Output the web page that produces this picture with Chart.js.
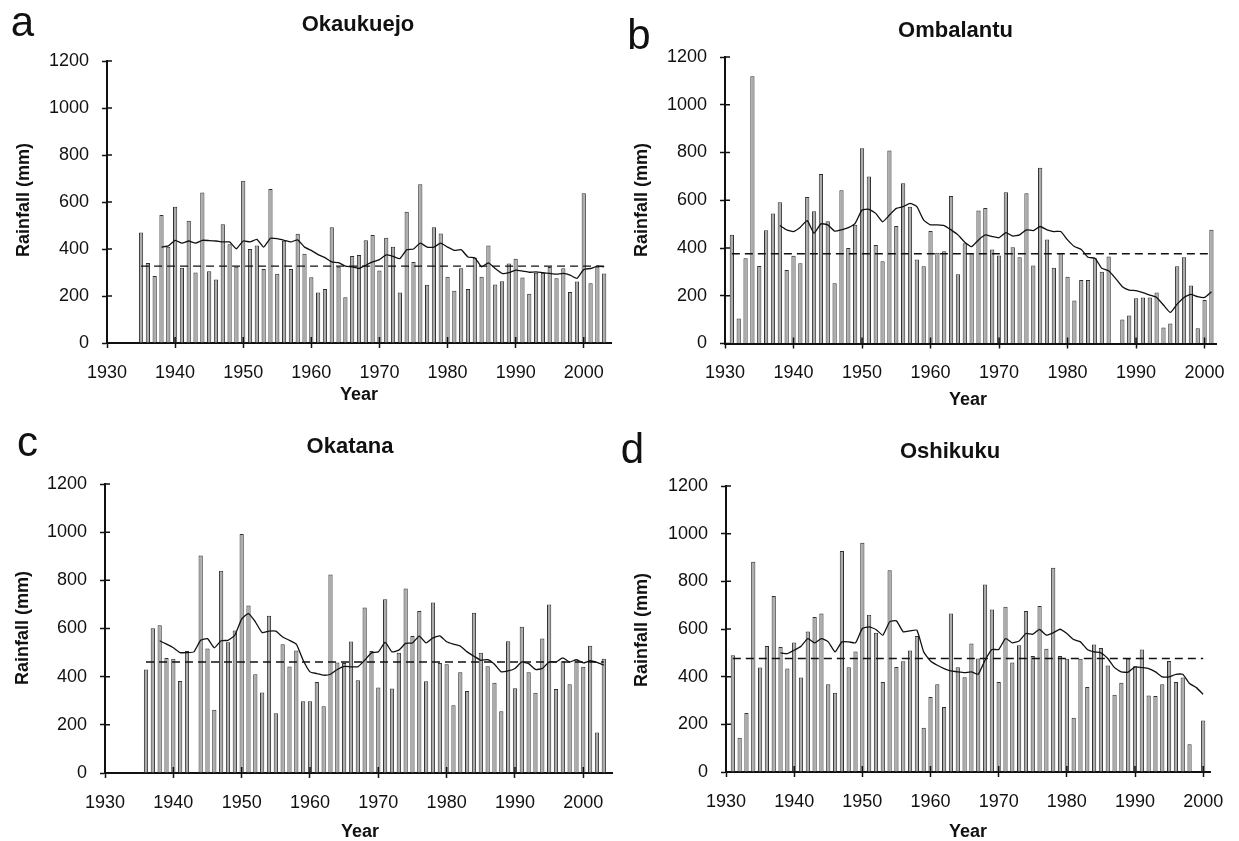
<!DOCTYPE html>
<html>
<head>
<meta charset="utf-8">
<script src="https://cdn.jsdelivr.net/npm/chart.js@4.4.1/dist/chart.umd.min.js"></script>
<style>
    body { margin: 0; background: #fff; }
    #page { position: relative; width: 1239px; height: 841px; overflow: hidden; font-family: "Liberation Sans", Arial, sans-serif; color: #111; }
    canvas { position: absolute; }
    .lbl { position: absolute; transform: translate(-50%, -50%); line-height: 1; white-space: nowrap; }
    .letter { font-size: 42px; }
    .title { font-size: 22px; font-weight: bold; }
    .axt { font-size: 18px; font-weight: bold; }
    .rot { transform: translate(-50%, -50%) rotate(-90deg); }
</style>
</head>
<body>
<div id="page"></div>
<script>
// Axis ticks
const yearTicks = [1930, 1940, 1950, 1960, 1970, 1980, 1990, 2000];
const rainTicks = [0, 200, 400, 600, 800, 1000, 1200];

// a - Okaukuejo (annual rainfall from 1935, running mean from 1938)
const okaukuejoStart = 1935;
const okaukuejoRain = [470, 340, 285, 545, 410,
    580, 320, 520, 300, 640, 305, 270, 505, 420, 325,
    690, 400, 415, 315, 655, 295, 435, 315, 465, 380,
    280, 215, 230, 493, 325, 195, 370, 375, 437, 460,
    308, 448, 410, 215, 558, 345, 676, 248, 493, 466,
    282, 222, 318, 230, 363, 282, 415, 249, 263, 338,
    358, 279, 210, 299, 299, 323, 276, 318, 217, 262,
    637, 254, 324, 296];
const okaukuejoAvgStart = 1938;
const okaukuejoAvg = [408, 413,
    437, 425, 434, 425, 437, 436, 434, 430, 430, 401,
    434, 430, 441, 408, 446, 444, 437, 430, 439, 408,
    394, 376, 363, 345, 342, 327, 324, 317, 331, 345,
    355, 375, 369, 359, 397, 400, 425, 408, 408, 425,
    408, 394, 397, 366, 363, 324, 341, 317, 296, 299,
    310, 306, 301, 303, 299, 296, 293, 296, 289, 275,
    313, 317, 327, 324];
const okaukuejoMean = 327;

// b - Ombalantu
const ombalantuStart = 1931;
const ombalantuRain = [455, 105, 357, 1119, 325, 474, 545, 592, 308,
    368, 336, 614, 554, 710, 512, 252, 642, 400, 497,
    818, 699, 413, 345, 808, 492, 671, 573, 352, 324,
    471, 380, 386, 618, 290, 420, 378, 557, 568, 394,
    369, 634, 403, 361, 629, 327, 736, 436, 317, 378,
    280, 180, 266, 266, 357, 301, 364, null, 101, 117,
    190, 193, 193, 214, 67, 84, 324, 361, 243, 64,
    182, 476];
const ombalantuAvgStart = 1938;
const ombalantuAvg = [494, 476,
    469, 487, 515, 462, 501, 497, 471, 476, 485, 503,
    559, 562, 545, 510, 538, 566, 573, 587, 573, 517,
    497, 497, 494, 476, 455, 424, 406, 434, 455, 448,
    443, 464, 450, 455, 476, 473, 490, 476, 469, 469,
    434, 406, 394, 361, 357, 315, 305, 273, 238, 224,
    221, 213, 203, 193, 161, 130, 165, 193, 206, 196,
    193, 217];
const ombalantuMean = 376;

// c - Okatana
const okatanaStart = 1936;
const okatanaRain = [430, 601, 614, 478,
    474, 382, 507, null, 903, 517, 263, 840, 543, 592,
    992, 696, 410, 334, 653, 248, 535, 442, 509, 298,
    298, 378, 277, 824, 459, 457, 546, 385, 687, 507,
    355, 721, 351, 499, 766, 569, 673, 381, 708, 457,
    452, 281, 418, 341, 665, 499, 443, 375, 256, 547,
    352, 607, 418, 333, 558, 700, 349, 464, 369, 471,
    441, 528, 168, 474];
const okatanaAvgStart = 1938;
const okatanaAvg = [549, 535,
    520, 500, 500, 503, 551, 558, 520, 549, 551, 572,
    639, 662, 628, 583, 589, 589, 565, 551, 535, 468,
    420, 413, 406, 410, 430, 443, 441, 441, 468, 499,
    503, 542, 503, 510, 538, 540, 568, 540, 561, 569,
    545, 535, 527, 503, 485, 468, 471, 452, 420, 424,
    434, 461, 454, 430, 434, 461, 461, 478, 461, 471,
    457, 466, 459, 448];
const okatanaMean = 461;

// d - Oshikuku
const oshikukuStart = 1931;
const oshikukuRain = [490, 144, 248, 882, 438, 529, 738, 525, 434,
    543, 396, 590, 650, 665, 368, 332, 927, 440, 506,
    962, 660, 584, 378, 847, 441, 465, 510, 571, 186,
    315, 368, 273, 665, 440, 398, 539, 476, 787, 682,
    378, 693, 459, 532, 676, 487, 696, 517, 857, 487,
    475, 228, 475, 357, 535, 520, 447, 324, 374, 475,
    444, 514, 321, 319, 368, 466, 378, 396, 116, null,
    216];
const oshikukuAvgStart = 1938;
const oshikukuAvg = [500, 497,
    511, 528, 560, 542, 560, 546, 504, 546, 546, 542,
    602, 609, 598, 574, 630, 634, 588, 592, 595, 504,
    466, 448, 434, 424, 420, 417, 420, 410, 469, 514,
    514, 560, 542, 550, 581, 578, 598, 574, 584, 599,
    581, 556, 546, 514, 504, 500, 476, 438, 420, 419,
    441, 438, 434, 420, 399, 399, 410, 410, 371, 354,
    326];
const oshikukuMean = 476;

const panels = [
    { letter: 'a', name: 'Okaukuejo', start: okaukuejoStart, rain: okaukuejoRain, avgStart: okaukuejoAvgStart, avg: okaukuejoAvg, mean: okaukuejoMean, xMax: 2004,
      box: [0, 0, 620, 420], area: { left: 107, top: 61, right: 611, bottom: 343 },
      letterAt: [22.5, 22.3], titleAt: [358, 23.5], yTitleAt: [23, 200], xTitleAt: [359, 394] },
    { letter: 'b', name: 'Ombalantu', start: ombalantuStart, rain: ombalantuRain, avgStart: ombalantuAvgStart, avg: ombalantuAvg, mean: ombalantuMean, xMax: 2001.7,
      box: [620, 0, 619, 420], area: { left: 725, top: 57, right: 1222, bottom: 343.5 },
      letterAt: [639, 34.8], titleAt: [955.5, 30], yTitleAt: [641, 200], xTitleAt: [968, 399] },
    { letter: 'c', name: 'Okatana', start: okatanaStart, rain: okatanaRain, avgStart: okatanaAvgStart, avg: okatanaAvg, mean: okatanaMean, xMax: 2004.2,
      box: [0, 420, 620, 421], area: { left: 105, top: 484, right: 612, bottom: 773 },
      letterAt: [27.5, 442.3], titleAt: [350, 446], yTitleAt: [22, 628], xTitleAt: [360, 831] },
    { letter: 'd', name: 'Oshikuku', start: oshikukuStart, rain: oshikukuRain, avgStart: oshikukuAvgStart, avg: oshikukuAvg, mean: oshikukuMean, xMax: 2001,
      box: [620, 420, 619, 421], area: { left: 726, top: 486, right: 1210, bottom: 772 },
      letterAt: [632.5, 449.3], titleAt: [950, 451], yTitleAt: [641, 630], xTitleAt: [968, 831] }
];

const page = document.getElementById('page');
const FONT = '"Liberation Sans", Arial, sans-serif';
Chart.defaults.font.family = FONT;
Chart.defaults.color = '#111';

// Ticks in the figure cross the axis, so draw the inner half too
const innerTicks = {
    id: 'innerTicks',
    afterDatasetsDraw(chart) {
        const { ctx, chartArea: a, scales: { x, y } } = chart;
        ctx.save();
        ctx.strokeStyle = '#111';
        ctx.lineWidth = 1.5;
        ctx.beginPath();
        x.ticks.forEach(t => {
            const px = x.getPixelForValue(t.value);
            ctx.moveTo(px, a.bottom);
            ctx.lineTo(px, a.bottom - 6);
        });
        y.ticks.forEach(t => {
            const py = y.getPixelForValue(t.value);
            ctx.moveTo(a.left, py);
            ctx.lineTo(a.left + 5, py);
        });
        ctx.stroke();
        ctx.restore();
    }
};

function addLabel(text, cls, [x, y]) {
    const d = document.createElement('div');
    d.className = 'lbl ' + cls;
    d.textContent = text;
    d.style.left = x + 'px';
    d.style.top = y + 'px';
    page.appendChild(d);
}

function makePanel(p) {
    const [bx, by, bw, bh] = p.box;
    const c = document.createElement('canvas');
    c.width = bw;
    c.height = bh;
    c.style.left = bx + 'px';
    c.style.top = by + 'px';
    page.appendChild(c);

    const years = p.rain.map((_, i) => p.start + i);
    const bars = years.map((yr, i) => ({ x: yr, y: p.rain[i] }));
    const avg = p.avg.map((v, i) => ({ x: p.avgStart + i, y: v }));
    const mean = [{ x: years[0], y: p.mean }, { x: years[years.length - 1], y: p.mean }];

    new Chart(c, {
        type: 'bar',
        data: {
            datasets: [
                { type: 'line', data: avg, borderColor: '#111', borderWidth: 1.3, pointRadius: 0, tension: 0.15, order: 1 },
                { type: 'line', data: mean, borderColor: '#111', borderWidth: 1.4, borderDash: [8, 5], pointRadius: 0, order: 1 },
                { type: 'bar', data: bars, backgroundColor: '#ababab', borderColor: '#303030', borderWidth: 1,
                  barPercentage: 0.62, categoryPercentage: 1, order: 2 }
            ]
        },
        options: {
            responsive: false,
            animation: false,
            devicePixelRatio: 1,
            layout: { padding: { top: p.area.top - by, right: bx + bw - p.area.right, left: 0, bottom: 0 } },
            plugins: { legend: { display: false }, tooltip: { enabled: false } },
            scales: {
                x: {
                    type: 'linear', min: 1930, max: p.xMax, offset: false,
                    afterBuildTicks: s => { s.ticks = yearTicks.map(v => ({ value: v })); },
                    afterFit: s => { s.height = by + bh - p.area.bottom; },
                    grid: { drawOnChartArea: false, drawTicks: true, tickLength: 5, tickColor: '#111', tickWidth: 1.5, offset: false },
                    border: { color: '#111', width: 2 },
                    ticks: { color: '#111', font: { size: 18 }, padding: 14, maxRotation: 0, autoSkip: false,
                             callback: v => String(v) }
                },
                y: {
                    min: 0, max: 1200,
                    afterBuildTicks: s => { s.ticks = rainTicks.map(v => ({ value: v })); },
                    afterFit: s => { s.width = p.area.left - bx; },
                    grid: { drawOnChartArea: false, drawTicks: true, tickLength: 5, tickColor: '#111', tickWidth: 1.5 },
                    border: { color: '#111', width: 2 },
                    ticks: { color: '#111', font: { size: 18 }, padding: 13, callback: v => String(v) }
                }
            }
        },
        plugins: [innerTicks]
    });

    addLabel(p.letter, 'letter', p.letterAt);
    addLabel(p.name, 'title', p.titleAt);
    addLabel('Rainfall (mm)', 'axt rot', p.yTitleAt);
    addLabel('Year', 'axt', p.xTitleAt);
}

panels.forEach(makePanel);
</script>
</body>
</html>
